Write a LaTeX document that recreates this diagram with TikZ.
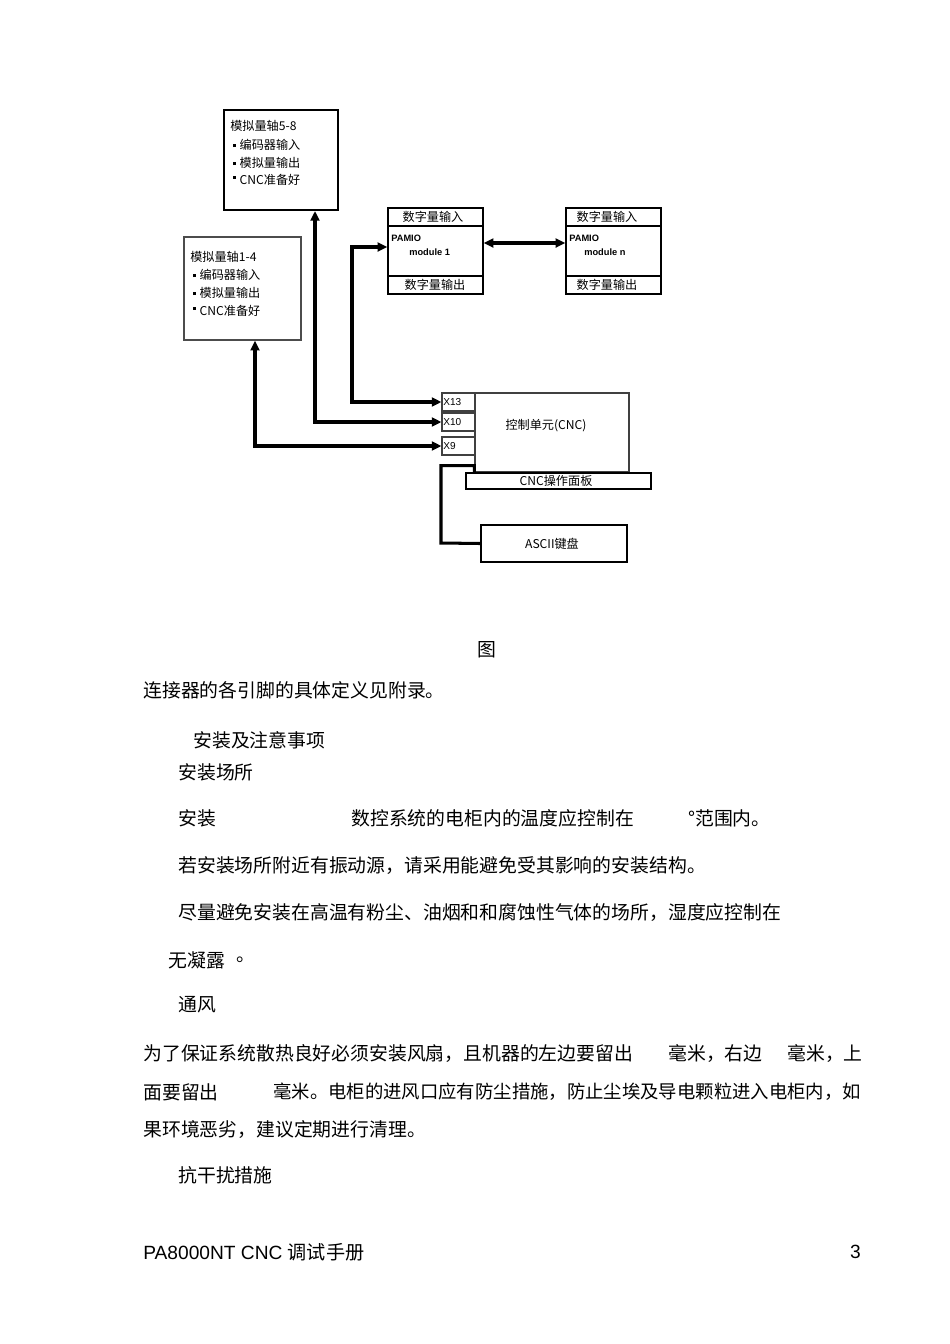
\documentclass[tikz,border=0pt]{standalone}
\usepackage{fontspec}
\setmainfont{Liberation Sans}
\newfontfamily\cjk{Noto Sans CJK SC}
\usetikzlibrary{arrows.meta,fit}
\newcommand{\bul}{\raisebox{1.6pt}{\rule{1.8pt}{1.8pt}}\hspace{2.2pt}}
\newcommand{\bulup}{\raisebox{3.6pt}{\rule{1.8pt}{1.5pt}}\hspace{2.2pt}}
\begin{document}
\begin{tikzpicture}[x=0.6263pt,y=-0.6263pt,
  thinbox/.style={draw, inner sep=0pt, line width=0.7pt},
  thickbox/.style={draw, inner sep=0pt, line width=1.3pt},
  conn/.style={line width=1.9pt, line join=miter,
    {Triangle[length=6pt,width=5.5pt]}-{Triangle[length=6pt,width=5.5pt]}},
  wire/.style={line width=1.9pt, line join=miter},
  body/.style={anchor=west, inner sep=0pt, font=\cjk\fontsize{11.8}{14}\selectfont},
  dtext/.style={inner sep=0pt, font=\cjk\fontsize{7.6}{9}\selectfont},
  ltext/.style={anchor=west, inner sep=0pt, font=\cjk\fontsize{7.6}{9}\selectfont},
  xlab/.style={anchor=west, inner sep=0pt, font=\fontsize{6.3}{7}\selectfont},
  pam/.style={anchor=west, inner sep=0pt, font=\bfseries\fontsize{5.8}{6}\selectfont},
]
\useasboundingbox[fill=white] (0,0) rectangle (950,1344);

% ---- boxes ----
\node[thickbox, fit={(224,110) (338,210)}] (boxA) {};
\node[thinbox, draw=black!70, line width=0.9pt, fit={(184,237) (301,340)}] (boxB) {};
\node[thinbox, line width=0.9pt, fit={(388,208) (483,294)}] (mod1) {};
\node[thinbox, line width=0.9pt, fit={(566,208) (661,294)}] (modn) {};
\draw[line width=0.8pt] (388,226) -- (483,226) (388,276) -- (483,276);
\draw[line width=0.8pt] (566,226) -- (661,226) (566,276) -- (661,276);

\node[thinbox, draw=black!75, fit={(475,393) (629,472)}] (cnc) {};
\node[thinbox, draw=black!75, fit={(442,393) (475,411)}] (x13) {};
\node[thinbox, draw=black!75, fit={(442,413) (475,431)}] (x10) {};
\node[thinbox, draw=black!75, fit={(442,437) (475,455)}] (x9) {};
\node[thinbox, fill=white, line width=1pt, fit={(466,473) (651,489)}] (panel) {};
\draw[line width=1.3pt] (466,489) -- (466,473) -- (651,473);
\node[thinbox, line width=0.8pt, fit={(481,525) (627,562)}] (kbd) {};

% ---- box texts ----
\node[ltext] at (230,126) {模拟量轴5-8};
\node[ltext] at (233,145) {\bul 编码器输入};
\node[ltext] at (233,163) {\bul 模拟量输出};
\node[ltext] at (233,180) {\bulup CNC准备好};

\node[ltext] at (190,257) {模拟量轴1-4};
\node[ltext] at (193,275) {\bul 编码器输入};
\node[ltext] at (193,293) {\bul 模拟量输出};
\node[ltext] at (193,311) {\bulup CNC准备好};

\node[dtext] at (433,217) {数字量输入};
\node[pam] at (391,238) {PAMIO};
\node[pam] at (409,252) {module 1};
\node[dtext] at (435,285) {数字量输出};

\node[dtext] at (607,217) {数字量输入};
\node[pam] at (569,238) {PAMIO};
\node[pam] at (584,252) {module n};
\node[dtext] at (607,285) {数字量输出};

\node[dtext] at (546,426) {控制单元(CNC)};
\node[xlab] at (443,402) {X13};
\node[xlab] at (443,422) {X10};
\node[xlab] at (443,446) {X9};
\node[dtext] at (556,481) {CNC操作面板};
\node[dtext] at (552,544) {ASCII键盘};

% ---- connectors ----
\draw[conn] (x13.west) -- (352,402) -- (352,247) -- (mod1.west |- 0,247);
\draw[conn] (x10.west) -- (315,422) -- (boxA.south -| 315,0);
\draw[conn] (x9.west) -- (255,446) -- (boxB.south -| 255,0);
\draw[conn] (mod1.east |- 0,243) -- (modn.west |- 0,243);
\draw[wire] (cnc.south west) -- ++(0,-7) -| (441,543) -- (kbd.west);

% ---- page text ----
\node[body, anchor=center] at (487,650) {图};
\node[body] at (143,690) {连接器的各引脚的具体定义见附录。};
\node[body] at (193,740) {安装及注意事项};
\node[body] at (178,772) {安装场所};
\node[body] at (178,818) {安装};
\node[body] at (351,818) {数控系统的电柜内的温度应控制在};
\node[body] at (688,818) {°范围内。};
\node[body] at (178,866) {若安装场所附近有振动源，请采用能避免受其影响的安装结构。};
\node[body] at (178,913) {尽量避免安装在高温有粉尘、油烟和和腐蚀性气体的场所，湿度应控制在};
\node[body] at (168,960) {无凝露};
\node[body] at (236,960) {。};
\node[body] at (178,1005) {通风};
\node[body] at (143,1053) {为了保证系统散热良好必须安装风扇，且机器的左边要留出};
\node[body] at (668,1053) {毫米，右边};
\node[body] at (787,1053) {毫米，上};
\node[body] at (143,1092) {面要留出};
\node[body, font=\cjk\fontsize{11.5}{14}\selectfont] at (273,1092) {毫米。电柜的进风口应有防尘措施，防止尘埃及导电颗粒进入电柜内，如};
\node[body] at (143,1130) {果环境恶劣，建议定期进行清理。};
\node[body] at (178,1175) {抗干扰措施};

\node[anchor=west, inner sep=0pt, font=\fontsize{12}{14}\selectfont] at (143,1252) {PA8000NT CNC {\cjk 调试手册}};
\node[anchor=east, inner sep=0pt, font=\fontsize{12}{14}\selectfont] at (861,1252) {3};
\end{tikzpicture}
\end{document}
